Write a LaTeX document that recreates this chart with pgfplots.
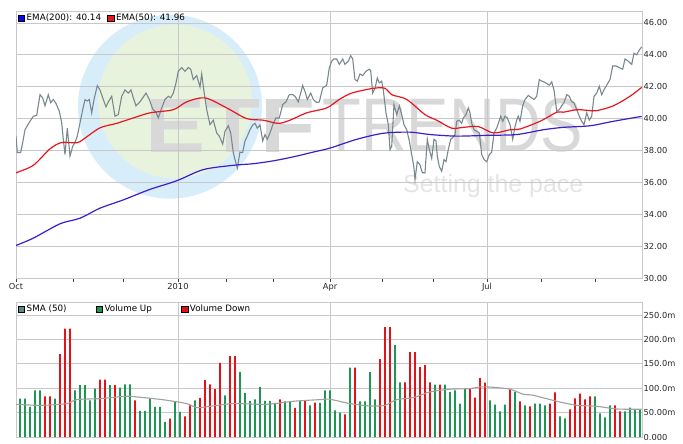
\documentclass[border=0pt]{standalone}
\usepackage{pgfplots}
\pgfplotsset{compat=1.18}
\usepackage{fontspec}
\usepackage{graphicx}
\setmainfont{DejaVu Sans}
\newfontfamily\wmfont{Liberation Sans}
\definecolor{pricec}{RGB}{122,136,142}
\definecolor{emared}{RGB}{232,22,30}
\definecolor{emablue}{RGB}{62,30,200}
\definecolor{legblue}{RGB}{10,10,235}
\definecolor{volup}{RGB}{28,150,82}
\definecolor{voldown}{RGB}{226,18,22}
\definecolor{smaline}{RGB}{160,160,160}
\definecolor{smaleg}{RGB}{90,140,140}
\definecolor{wmblue}{RGB}{216,237,250}
\definecolor{wmgreen}{RGB}{231,243,221}
\definecolor{wmtext}{RGB}{216,216,216}
\definecolor{wmsub}{RGB}{228,228,228}
\definecolor{gridc}{RGB}{200,200,200}
\newcommand{\tfont}{\fontsize{8.3}{10}\selectfont}
\newcommand{\lfont}{\fontsize{8.8}{10}\selectfont}
\begin{document}
\begin{tikzpicture}
% watermark axis (background)
\begin{axis}[
  name=wm,
  scale only axis, width=626bp, height=267bp,
  xmin=16, xmax=642, ymin=30, ymax=46.75,
  hide axis,
]
\fill[wmblue] (axis cs:170,40.75) circle[radius=92bp];
\fill[wmgreen] (axis cs:175,41.07) circle[radius=77bp];
\node[anchor=south west, inner sep=0, text=wmtext] at (axis cs:145,37.87) {\resizebox{170bp}{53bp}{\wmfont\bfseries ETF}};
\node[anchor=south west, inner sep=0, text=wmtext] at (axis cs:322,37.87) {\resizebox{261bp}{53bp}{\wmfont TRENDS}};
\node[anchor=base west, inner sep=0, text=wmsub] at (axis cs:403,35.36) {\fontsize{25}{25}\wmfont Setting the pace};
\end{axis}
\begin{axis}[
  name=top,
  at={(wm.south west)}, anchor=south west,
  scale only axis, width=626bp, height=267bp,
  xmin=16, xmax=642, ymin=30, ymax=46.75,
  xtick={16,178,330,487}, xticklabels={Oct,2010,Apr,Jul},
  minor xtick={73,123,226,273,382,433,541,595},
  ytick={30,32,34,36,38,40,42,44,46},
  yticklabels={30.00,32.00,34.00,36.00,38.00,40.00,42.00,44.00,46.00},
  yticklabel pos=right, ytick pos=right, xtick pos=bottom,
  tick align=outside, major tick length=4bp, minor tick length=4bp,
  xtick style={black!75, line width=0.8bp},
  minor tick style={black!75, line width=0.8bp},
  ytick style={draw=none},
  ticklabel style={font=\tfont, text=black!85},
  yticklabel style={inner sep=1.5bp, xshift=-4bp},
  xticklabel style={inner sep=1.5bp},
  grid=major, major grid style={gridc, line width=0.8bp},
  axis line style={gridc, line width=0.8bp},
  legend image code/.code={\fill[#1] (0bp,-3.3bp) rectangle (6.6bp,3.3bp);},
  legend style={at={(0,1)}, anchor=north west, draw=none, fill=none,
    font=\lfont, inner sep=1bp, xshift=0.5bp, yshift=0bp,
    /tikz/every even column/.append style={column sep=4bp}},
  legend columns=2, legend cell align=left,
]
\addlegendimage{fill=legblue}\addlegendentry{EMA(200): 40.14}
\addlegendimage{fill=emared}\addlegendentry{EMA(50): 41.96}
% price
\addplot[color=pricec, line width=1.1bp, forget plot] coordinates {
(16,38.89)(17.3,37.87)(20.7,37.87)(22.7,38.5)(25,39.3)(30,39.83)(33.3,40.15)(36.7,40.2)
(40,41.5)(42.7,41.3)(45,40.8)(48.3,41.5)(50.7,41.0)(53.3,41.2)(56,40.95)(59.3,40.46)
(61.7,39.73)(63.3,38.7)(65,37.74)(67.3,39.4)(70,37.64)(72.7,38.26)(75,38.5)(77.3,38.9)
(80,39.73)(82.7,40.56)(85,41.19)(87.3,41.1)(89.3,41.2)(91.7,40.36)(94,41.19)(97.3,42.07)
(100,41.8)(103.3,41.2)(106,40.73)(108.3,41.05)(111.7,41.4)(115,40.15)(118.3,40.25)
(121.7,41.4)(125,41.8)(128.3,41.6)(131,41.8)(133.3,41.3)(136,40.8)(139.3,41.0)(142.7,41.3)
(146,41.6)(149.3,41.2)(152.7,40.6)(156,40.4)(158.3,40.04)(161.7,40.67)(165,41.2)(168.3,41.4)
(170.7,41.3)(173.3,41.6)(176,42.24)(178.3,42.97)(181.7,43.2)(185,42.97)(188.3,43.2)
(190.7,43.1)(193.3,42.45)(196.7,42.7)(200,41.99)(201.7,42.8)(204,41.7)(206.7,40.56)
(210,39.62)(213.3,39.9)(216.7,39.1)(219.3,38.9)(222.7,38.4)(225,39.2)(228.3,39.55)
(230.7,39.1)(233.3,37.87)(235,37.43)(237.3,36.9)(240,37.9)(242.7,37.87)(245,38.6)
(247.3,38.9)(250,39.3)(252.7,39.6)(255,39.7)(257.3,39.4)(260,39.6)(262.7,38.6)(265,39.0)
(267.3,38.7)(270,39.1)(273.3,39.7)(276,40.04)(279.3,40.04)(282.7,40.88)(286,41.05)
(289.3,41.5)(292.7,41.5)(295,41.4)(298.3,41.05)(302.7,42.07)(305,41.7)(307.3,41.2)
(310.7,41.6)(313.3,41.2)(316.7,41.0)(319.3,41.05)(322.7,41.92)(326.7,42.1)(329.3,43.18)
(331.7,43.6)(334,43.74)(336.7,43.74)(339.3,43.4)(342.7,43.74)(345,43.4)(348.3,43.6)
(350.7,43.95)(352.7,43.74)(355,42.45)(357.3,42.35)(360,42.8)(362.7,42.7)(366,42.97)
(369.3,43.1)(370.7,43.0)(372.7,41.6)(375,41.9)(377.3,42.55)(379.3,42.24)(381.7,42.35)
(383.3,41.78)(386,40.36)(388.3,39.62)(390,38.06)(391.7,38.26)(394,40.88)(396.7,40.25)
(399.3,40.8)(401.7,40.25)(404,39.62)(406.7,39.3)(409.3,38.6)(411.7,37.74)(414,36.9)
(415,36.17)(417.3,37.3)(420,37.1)(422.3,36.6)(425,36.6)(427.3,38.7)(429.3,38.06)
(431.7,37.5)(434,38.7)(436,38.6)(437.3,37.64)(439.3,37.0)(441.7,36.7)(444,37.43)
(446,37.3)(448.3,38.06)(450.7,38.7)(452.7,38.8)(455,39.0)(456.7,39.83)(459.3,39.9)
(461.7,39.7)(463.3,40.04)(466,40.25)(468.3,40.67)(470,40.36)(471.7,39.7)(474,39.3)
(476.7,39.2)(479.3,39.1)(481.7,37.74)(484,37.43)(486.7,37.3)(489.3,37.74)(491.7,37.9)
(494,39.1)(496.7,39.4)(498.3,39.7)(500.7,40.15)(502.7,39.83)(505,40.15)(507.3,40.04)
(510,39.62)(512.7,38.7)(515,39.5)(516.7,39.9)(518.3,40.15)(520,39.83)(522.7,40.8)
(525,41.2)(528.3,41.45)(531.7,41.3)(534,41.2)(536.7,41.4)(539.3,42.45)(541.7,42.35)
(544,42.3)(546.7,42.2)(549.3,42.1)(551.7,42.3)(554,41.8)(556.7,40.46)(559.3,40.56)
(561.7,40.8)(564,41.0)(566.7,41.5)(569.3,41.4)(571.7,41.05)(574,41.0)(576.7,40.56)
(579.3,40.15)(581.7,39.83)(584,39.62)(586.7,40.36)(589.3,39.9)(591.7,40.15)(594,41.4)
(596.7,41.6)(599.3,42.03)(601.7,41.5)(604,41.8)(606.7,42.1)(610,42.45)(612.7,43.3)
(616,43.3)(619.3,43.2)(622.7,43.1)(625,43.74)(628.3,43.6)(631.7,43.4)(634,44.1)
(636.7,44.0)(639.3,44.3)(641.7,44.5)
};
% EMA 200
\addplot[color=emablue, line width=1.2bp, smooth, forget plot] coordinates {
(16,32.04)(33.3,32.5)(60,33.4)(80,33.75)(100,34.38)(123.3,34.9)(150,35.56)(176.7,36.1)
(203.3,36.8)(233.3,37.07)(253.3,37.17)(273.3,37.35)(293.3,37.6)(313.3,37.9)(330,38.15)
(356.7,38.7)(383.3,39.08)(410,39.15)(430,39.0)(456.7,38.9)(486.7,38.95)(516.7,39.0)
(543.3,39.3)(563.3,39.45)(590,39.55)(613.3,39.83)(641.7,40.14)
};
% EMA 50
\addplot[color=emared, line width=1.2bp, smooth, forget plot] coordinates {
(16,36.6)(33.3,37.07)(50,38.1)(61.7,38.5)(76.7,38.48)(83.3,38.7)(100,39.42)(116.7,39.7)
(133.3,40.04)(150,40.36)(173.3,40.56)(186.7,41.05)(205,41.3)(226.7,40.67)(246.7,40.0)
(263.3,39.9)(278.3,39.7)(290,39.9)(306.7,40.36)(326.7,40.67)(339.3,41.2)(351.7,41.6)
(373.3,41.9)(385,41.9)(391.7,41.5)(406.7,41.2)(425,40.25)(436.7,39.9)(451.7,39.4)
(463.3,39.45)(478.3,39.5)(493.3,39.1)(510,39.3)(520,39.35)(540,39.83)(556.7,40.4)
(563.3,40.4)(576.7,40.56)(586.7,40.52)(596.7,40.5)(613.3,40.8)(630,41.4)(641.7,41.96)
};
\end{axis}
\begin{axis}[
  name=vol,
  at={(top.south west)}, anchor=north west, yshift=-24bp,
  scale only axis, width=626bp, height=135bp,
  xmin=16, xmax=642, ymin=0, ymax=277,
  xtick={178,330,487}, xticklabels={},
  ytick={0,50,100,150,200,250},
  yticklabels={0.000,50.00m,100.0m,150.0m,200.0m,250.0m},
  yticklabel pos=right, ytick pos=right, xtick pos=bottom,
  major tick length=0bp,
  ticklabel style={font=\tfont, text=black!85},
  yticklabel style={inner sep=1.5bp},
  grid=major, major grid style={gridc, line width=0.8bp},
  axis line style={gridc, line width=0.8bp},
  legend image code/.code={\fill[#1] (0bp,-3.3bp) rectangle (6.6bp,3.3bp);},
  legend style={at={(0,1)}, anchor=north west, draw=none, fill=none,
    font=\lfont, inner sep=1bp, xshift=0.5bp,
    /tikz/every even column/.append style={column sep=27bp}},
  legend columns=3, legend cell align=left,
]
\addlegendimage{fill=smaleg}\addlegendentry{SMA (50)}
\addlegendimage{fill=volup}\addlegendentry{Volume Up}
\addlegendimage{fill=voldown}\addlegendentry{Volume Down}
\addplot[ybar, bar width=1.9bp, bar shift=0pt, fill=volup, draw=none, forget plot] coordinates {
(20,78.8)(25,78.8)(30,61.6)(35,95.9)(40,95.9)(55,78.8)(75,95.9)(80,106.2)(85,106.2)
(90,75.4)(95,99.3)(110,106.2)(120,101.4)(125,108.2)(130,108.2)(140,53.4)(145,53.4)
(150,78.8)(155,61.6)(160,61.6)(165,30.8)(175,71.9)(180,51.4)(195,75.4)(225,85.6)
(240,133.6)(245,90.4)(250,74)(255,77.4)(260,102.8)(265,74)(270,74)(275,69.9)(285,73.3)
(290,73.3)(300,74)(310,65.1)(320,69.9)(325,95.9)(330,95.9)(335,54.8)(340,50)(350,142.5)
(360,73.3)(365,73.3)(370,132.9)(375,77.4)(395,188.4)(400,112.3)(435,107.5)(445,107.5)
(450,92.5)(455,95.9)(460,68.5)(465,98)(490,75.4)(495,66.4)(500,52.7)(505,66.4)
(515,92.5)(525,65.1)(535,68.5)(540,68.5)(545,65.1)(560,42.5)(565,38.4)(595,83.6)
(600,48.6)(605,40.4)(610,65.1)(625,52.7)(630,60.3)(635,56.9)(640,56.9)
};
\addplot[ybar, bar width=1.9bp, bar shift=0pt, fill=voldown, draw=none, forget plot] coordinates {
(45,83.6)(50,83.6)(60,169.9)(65,222.6)(70,222.6)(100,117.8)(105,117.8)(115,106.2)
(135,75.4)(170,37.7)(185,42.5)(190,65.1)(200,80.1)(205,116.5)(210,108.2)(215,98)
(220,152)(230,165.8)(235,165.8)(280,77.4)(295,59.6)(305,75.4)(315,70.6)(345,46.6)
(355,142.5)(380,159.6)(385,225.4)(390,225.4)(405,112.3)(410,174)(415,174)(420,143.2)
(425,147.3)(430,112.3)(440,107.5)(470,98)(475,80.8)(480,120.6)(485,111.7)(510,98.6)
(520,73.3)(530,63)(550,68.5)(555,91.8)(570,56.9)(575,79.5)(580,89)(585,77.4)(590,83.6)
(615,65.1)(620,52.7)
};
\addplot[color=smaline, line width=1.1bp, smooth, forget plot] coordinates {
(16,67.1)(40,65)(66.7,68.5)(76.7,76.7)(100,78.8)(126.7,83.6)(136.7,82.2)(153.3,78.8)
(166.7,75.4)(186.7,68.5)(196.7,60.3)(210,63)(233.3,68.5)(266.7,67.1)(293.3,73.3)
(320,76.7)(330,77.4)(350,68.5)(370,63.7)(385,65.1)(396.7,76.7)(413.3,80.8)(430,92.5)
(450,98)(470,99.3)(480,102.8)(493.3,102)(510,98)(523.3,87.7)(533.3,85.6)(556.7,73.3)
(576.7,65.1)(596.7,63)(616.7,57.5)(641.7,56.9)
};
\end{axis}
\pgfresetboundingbox
\useasboundingbox ([xshift=-16bp,yshift=11bp]top.north west) rectangle ([xshift=41bp,yshift=-7bp]vol.south east);
\end{tikzpicture}
\end{document}
